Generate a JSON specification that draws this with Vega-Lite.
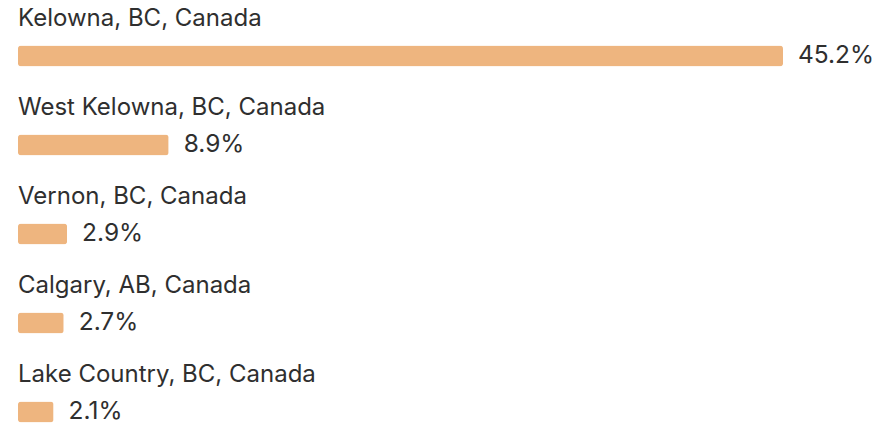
{
  "$schema": "https://vega.github.io/schema/vega-lite/v6.json",
  "width": 879,
  "height": 425,
  "padding": 0,
  "autosize": {"type": "none"},
  "background": "#ffffff",
  "config": {"view": {"stroke": null}},
  "data": {
    "values": [
      {"city": "Kelowna, BC, Canada", "share": 0.452},
      {"city": "West Kelowna, BC, Canada", "share": 0.089},
      {"city": "Vernon, BC, Canada", "share": 0.029},
      {"city": "Calgary, AB, Canada", "share": 0.027},
      {"city": "Lake Country, BC, Canada", "share": 0.021}
    ]
  },
  "encoding": {
    "y": {
      "field": "city",
      "type": "nominal",
      "sort": null,
      "scale": {"type": "point", "range": [56, 412], "padding": 0},
      "axis": null
    }
  },
  "layer": [
    {
      "mark": {"type": "bar", "color": "#EEB57F", "cornerRadius": 3, "size": 21},
      "encoding": {
        "x": {"field": "share", "type": "quantitative", "scale": {"domain": [0, 0.452], "range": [18, 783], "nice": false, "zero": true}, "axis": null}
      }
    },
    {
      "mark": {"type": "text", "align": "left", "baseline": "middle", "dx": 15, "fontSize": 24.5, "font": "Inter", "fontWeight": 400, "color": "#2f2f2f"},
      "encoding": {
        "x": {"field": "share", "type": "quantitative"},
        "text": {"field": "share", "type": "quantitative", "format": ".1%"}
      }
    },
    {
      "mark": {"type": "text", "align": "left", "baseline": "middle", "dy": -37, "fontSize": 24, "font": "Inter", "fontWeight": 400, "color": "#2f2f2f"},
      "encoding": {
        "x": {"datum": 0, "type": "quantitative"},
        "text": {"field": "city", "type": "nominal"}
      }
    }
  ]
}
